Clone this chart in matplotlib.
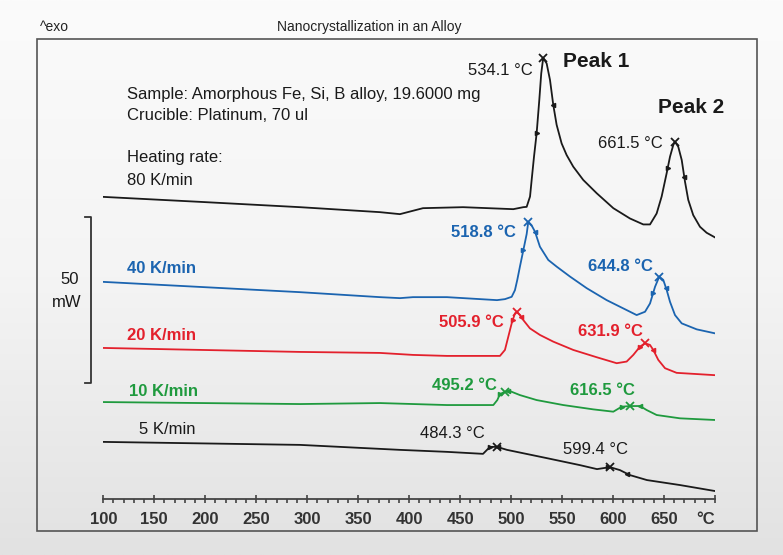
import numpy as np
import matplotlib
matplotlib.use("Agg")
import matplotlib.pyplot as plt
from matplotlib.colors import LinearSegmentedColormap
from matplotlib.patches import Rectangle

plt.rcParams['font.family'] = ['Liberation Sans', 'DejaVu Sans']

## ----------------- DATA (temperature in °C, heat flow in mW, curves offset) -----------------
t_80 = [100, 195, 293, 371.4, 391, 413.6, 452.9, 502.2, 512, 515.3, 518.6, 520.2, 522.5, 525.1,
        527.7, 529.6, 531.5, 534.9, 538.2, 541.4, 544.7, 549.6, 554.5, 561.0, 570.8, 584.0, 600.3,
        616.6, 629.7, 636.3, 642.8, 647.7, 652.6, 655.9, 659.1, 660.8, 664.0, 667.4, 670.6, 673.8,
        678.7, 685.3, 691.8, 700]
q_80 = [91.0, 89.5, 87.9, 86.4, 85.8, 87.6, 87.9, 87.3, 87.9, 88.0, 91.1, 96.1, 103.1, 110.2,
        120.2, 128.2, 132.8, 131.2, 126.2, 118.7, 112.7, 107.1, 103.6, 100.1, 96.1, 92.1, 87.6,
        84.5, 82.7, 82.7, 86.0, 91.1, 98.1, 103.1, 106.6, 107.6, 106.1, 102.1, 95.6, 90.1,
        85.5, 82.0, 80.2, 78.8]

t_40 = [100, 293, 371.4, 391, 403.8, 437.1, 486.2, 494, 500.6, 503.8, 506.1, 508.7, 511.4, 515.3,
        516.9, 520, 523.5, 528.3, 536.5, 544.7, 557.8, 574.2, 593.8, 613.4, 623.2, 631.4, 636.3,
        641.2, 645.4, 649.3, 652.6, 655.9, 660.8, 667.4, 682.1, 700]
q_40 = [65.4, 62.3, 60.8, 60.5, 60.8, 60.8, 59.9, 60.2, 60.9, 62.9, 66.0, 70.0, 74.0, 79.8,
        83.5, 82.5, 80.5, 76.0, 72.0, 70.0, 67.0, 63.5, 59.9, 56.9, 55.4, 56.4, 58.9,
        63.9, 67.0, 66.0, 63.0, 59.4, 55.4, 52.9, 51.1, 49.9]

t_20 = [100, 293, 371.4, 403.8, 437.1, 489.1, 494.0, 497.3, 500.6, 503.8, 505.5, 508.7, 512.0,
        518.5, 528.4, 541.4, 561.0, 584.0, 603.6, 613.4, 619.9, 626.5, 631.4, 636.3, 639.5, 644.4,
        651.0, 662.4, 700]
q_20 = [45.5, 44.3, 44.0, 43.4, 43.1, 43.1, 44.9, 48.9, 52.9, 55.9, 56.4, 55.4, 53.9,
        51.4, 49.4, 47.4, 44.9, 42.7, 40.9, 41.4, 43.4, 45.9, 46.9, 46.4, 44.9, 41.9,
        39.4, 38.0, 37.3]

t_10 = [100, 293, 371.4, 437.1, 482.6, 486.5, 489.1, 494.0, 498.9, 508.7, 525.1, 551.2, 580.6,
        600.3, 608.5, 616.6, 626.5, 633.0, 642.8, 665.7, 700]
q_10 = [29.2, 28.6, 28.9, 28.3, 28.3, 29.8, 31.6, 32.3, 32.5, 31.3, 29.8, 28.3, 27.0,
        26.3, 27.8, 28.0, 28.0, 26.8, 25.3, 24.3, 23.8]

t_5 = [100, 293, 391, 437.1, 472.5, 479.3, 486.2, 496, 535.2, 567.6, 584.3, 597, 606.8, 616.6,
       633.3, 665.7, 700]
q_5 = [17.2, 16.3, 14.8, 14.2, 13.6, 15.7, 15.7, 14.8, 12.3, 10.2, 9.0, 9.6, 8.7, 7.2,
       5.7, 4.2, 2.4]

rates = ['80 K/min', '40 K/min', '20 K/min', '10 K/min', '5 K/min']
colors = ['#1a1a1a', '#1b64b0', '#e3202c', '#1f9a3e', '#1a1a1a']

# peak positions as drawn, and the labelled peak temperatures
peak_pos = [[531.5, 660.8], [516.9, 645.4], [505.5, 631.4], [494, 616.6], [486.2, 597]]
peak_lbl = [['534.1 °C', '661.5 °C'], ['518.8 °C', '644.8 °C'], ['505.9 °C', '631.9 °C'],
            ['495.2 °C', '616.5 °C'], ['484.3 °C', '599.4 °C']]
# onset / endset marks around each peak
onsets = [[525.1, 541.4, 653.6, 669.9], [512.0, 523.5, 639.5, 652], [501.6, 509.9, 626.5, 639.5],
          [489.1, 497.3, 608.5, 626.4], [479.3, 487.5, 595.4, 614.0]]

x_ticks = [100, 150, 200, 250, 300, 350, 400, 450, 500, 550, 600, 650, 700]
x_tick_labels = ['100', '150', '200', '250', '300', '350', '400', '450', '500', '550', '600', '650', '°C']

scale_mw = 50
scale_lo = 34.9

## ----------------- FIGURE -----------------
fig = plt.figure(figsize=(7.83, 5.55), dpi=100)

# soft grey backdrop
bg = fig.add_axes([0, 0, 1, 1], zorder=-2)
grad = np.linspace(0, 1, 256).reshape(-1, 1) * np.ones((1, 32))
cmap = LinearSegmentedColormap.from_list('bg', ['#fbfbfb', '#f4f4f4', '#e2e2e2'])
bg.imshow(grad, aspect='auto', cmap=cmap, extent=[0, 1, 0, 1], origin='upper')
bg.set_xlim(0, 1)
bg.set_ylim(0, 1)
bg.axis('off')
bg.add_patch(Rectangle((0.0473, 0.0432), 0.9195, 0.8865, fill=False, edgecolor='#555555', lw=1.2))

fig.text(0.051, 0.951, '^exo', fontsize=10, color='#222222', va='center')
fig.text(0.472, 0.951, 'Nanocrystallization in an Alloy', fontsize=10, color='#222222',
         ha='center', va='center')

ax = fig.add_axes([0.1319, 0.1009, 0.7812, 0.827])
ax.patch.set_alpha(0)
ax.set_xlim(100, 700)
ax.set_ylim(0, 138.25)
for s in ['top', 'right', 'left']:
    ax.spines[s].set_visible(False)
ax.spines['bottom'].set_color('#444444')
ax.spines['bottom'].set_linewidth(1.3)
ax.set_yticks([])
ax.set_xticks(x_ticks)
ax.set_xticklabels(x_tick_labels, fontsize=12, fontweight='bold', color='#333333')
ax.get_xticklabels()[-1].set_horizontalalignment('right')
ax.set_xticks(np.arange(100, 701, 10), minor=True)
ax.tick_params(axis='x', which='major', direction='inout', length=6, width=1.2, color='#444444', pad=6)
ax.tick_params(axis='x', which='minor', direction='out', length=3, width=1.2, color='#444444')

curves = [(t_80, q_80), (t_40, q_40), (t_20, q_20), (t_10, q_10), (t_5, q_5)]
for (t, q), c, pk, ons in zip(curves, colors, peak_pos, onsets):
    ax.plot(t, q, color=c, lw=1.3, solid_joinstyle='round')
    ax.plot(pk, np.interp(pk, t, q), 'x', color=c, ms=6, mew=1.3)
    ax.plot(ons[0::2], np.interp(ons[0::2], t, q), '>', color=c, ms=3)
    ax.plot(ons[1::2], np.interp(ons[1::2], t, q), '<', color=c, ms=3)

# heating-rate labels
rate_pos = [(123.3, 95.8), (123.3, 69.3), (123.3, 49.1), (125.3, 32.5), (135, 20.8)]
for r, c, (x, y) in zip(rates, colors, rate_pos):
    ax.text(x, y, r, color=c, fontsize=12, fontweight='normal' if c == '#1a1a1a' else 'bold', va='center')

# peak temperature labels
lbl_pos = [[(521.5, 129.2), (649, 107.2)], [(504.8, 80.4), (638.9, 70.0)], [(492.4, 53.1), (629.7, 50.4)],
           [(485.9, 34.3), (621.6, 32.6)], [(474.4, 19.6), (615, 15.0)]]
for labels, c, pos in zip(peak_lbl, colors, lbl_pos):
    for lb, (x, y) in zip(labels, pos):
        ax.text(x, y, lb, color=c, fontsize=12, fontweight='normal' if c == '#1a1a1a' else 'bold',
                ha='right', va='center')

ax.text(551, 131.9, 'Peak 1', fontsize=15, fontweight='bold', color='#1a1a1a', va='center')
ax.text(644.4, 117.9, 'Peak 2', fontsize=15, fontweight='bold', color='#1a1a1a', va='center')

ax.text(123.3, 121.7, 'Sample: Amorphous Fe, Si, B alloy, 19.6000 mg', fontsize=12, color='#1a1a1a', va='center')
ax.text(123.3, 115.4, 'Crucible: Platinum, 70 ul', fontsize=12, color='#1a1a1a', va='center')
ax.text(123.3, 103.0, 'Heating rate:', fontsize=12, color='#1a1a1a', va='center')

# 50 mW scale bracket
ax.plot([82.1, 88, 88, 82.1], [scale_lo + scale_mw, scale_lo + scale_mw, scale_lo, scale_lo],
        color='#333333', lw=1.3, clip_on=False)
ax.text(76.5, 66.0, str(scale_mw), fontsize=12, color='#1a1a1a', ha='right', va='center')
ax.text(78.5, 59.3, 'mW', fontsize=12, color='#1a1a1a', ha='right', va='center')

fig.savefig('out.png', dpi=100)
